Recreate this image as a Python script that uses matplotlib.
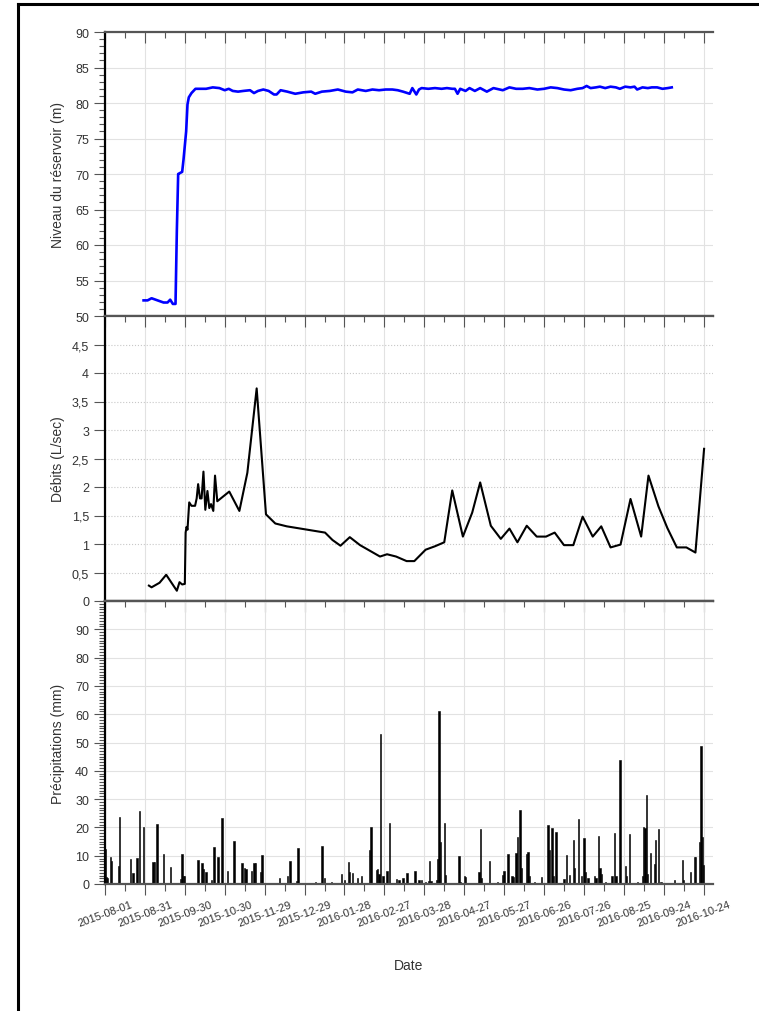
import numpy as np
import pandas as pd
import matplotlib
matplotlib.use("Agg")
import matplotlib.pyplot as plt
import matplotlib.dates as mdates
from matplotlib.ticker import MultipleLocator, FuncFormatter
from matplotlib.lines import Line2D

plt.rcParams['font.family'] = ['Liberation Sans', 'DejaVu Sans']

# dates are given as days after 2015-08-01
DEBUT = pd.Timestamp("2015-08-01")

# reservoir level (m)
niveau_jour = [29, 32, 35, 38, 41, 44, 47, 49, 51, 53, 54, 55, 56, 58, 59, 61, 62, 63, 65, 68,
               72, 76, 81, 86, 90, 93, 96, 100, 104, 109, 112, 115, 119, 123, 127, 129, 132,
               137, 143, 149, 155, 158, 163, 169, 175, 181, 186, 190, 196, 201, 206, 211, 216,
               220, 224, 229, 231, 234, 236, 238, 243, 248, 253, 257, 261, 263, 265, 267, 271,
               274, 278, 282, 287, 292, 299, 304, 309, 314, 319, 325, 330, 335, 340, 345, 350,
               355, 359, 362, 365, 369, 372, 376, 380, 384, 387, 391, 395, 398, 400, 404, 408,
               411, 415, 419, 423, 426]
niveau_m = [52.2, 52.2, 52.5, 52.3, 52.1, 51.9, 51.9, 52.3, 51.7, 51.7, 62.0, 70.0, 70.1, 70.3,
            72.0, 76.0, 79.8, 80.8, 81.4, 82.0, 82.0, 82.0, 82.2, 82.1, 81.8, 82.0, 81.7, 81.6,
            81.7, 81.8, 81.4, 81.7, 81.9, 81.7, 81.2, 81.2, 81.8, 81.6, 81.3, 81.5, 81.6, 81.3,
            81.6, 81.7, 81.9, 81.6, 81.5, 81.9, 81.7, 81.9, 81.8, 81.9, 81.9, 81.8, 81.6, 81.3,
            82.1, 81.2, 81.9, 82.1, 82.0, 82.1, 82.0, 82.1, 82.0, 82.0, 81.3, 82.0, 81.7, 82.1,
            81.7, 82.1, 81.6, 82.1, 81.8, 82.2, 82.0, 82.0, 82.1, 81.9, 82.0, 82.2, 82.1, 81.9,
            81.8, 82.0, 82.1, 82.4, 82.1, 82.2, 82.3, 82.1, 82.3, 82.2, 82.0, 82.3, 82.2, 82.3,
            81.9, 82.2, 82.1, 82.2, 82.2, 82.0, 82.1, 82.2]

# flow (L/sec)
debit_jour = [33, 35, 41, 46, 54, 56, 58, 60, 60.6, 61.3, 62, 63.3, 65, 67.7, 68.9, 70, 71.4,
              72.6, 74, 75.4, 77, 78.4, 79.7, 81.4, 82.7, 84.4, 93.4, 101, 107, 114, 121, 128,
              136.6, 165.4, 171, 177, 184, 191.7, 206.7, 212, 218.8, 226.7, 232.5, 241, 248,
              255, 261, 269, 276, 282, 290, 297.5, 304, 310, 317, 324.5, 331.5, 338, 345, 352,
              359, 366.6, 373, 380, 387.5, 395, 403, 408.5, 416, 422.7, 429.8, 437, 443.8, 450.3]
debit_ls = [0.27, 0.24, 0.32, 0.46, 0.18, 0.33, 0.29, 0.30, 1.20, 1.30, 1.25, 1.73, 1.67, 1.67,
            1.80, 2.05, 1.80, 1.80, 2.27, 1.60, 1.93, 1.63, 1.70, 1.58, 2.20, 1.75, 1.92, 1.58,
            2.25, 3.73, 1.52, 1.36, 1.31, 1.20, 1.07, 0.97, 1.12, 0.98, 0.78, 0.82, 0.78, 0.70,
            0.70, 0.90, 0.96, 1.03, 1.94, 1.13, 1.55, 2.08, 1.32, 1.09, 1.27, 1.03, 1.32, 1.13,
            1.13, 1.20, 0.98, 0.98, 1.48, 1.13, 1.31, 0.94, 0.99, 1.79, 1.13, 2.20, 1.66, 1.28,
            0.94, 0.94, 0.85, 2.67]

# daily rain (mm), days without rain left out
pluie_jour = [0, 1, 2, 4, 5, 10, 11, 19, 21, 24, 26, 29, 36, 37, 39, 44, 49, 57, 58, 59, 60, 70,
              73, 74, 76, 80, 82, 85, 88, 92, 97, 103, 105, 106, 110, 112, 113, 117, 118, 124,
              128, 131, 137, 139, 144, 145, 152, 158, 163, 165, 170, 178, 180, 183, 184, 186,
              190, 193, 199, 200, 204, 205, 206, 207, 209, 212, 214, 219, 221, 224, 227, 233,
              236, 238, 241, 243, 244, 245, 249, 250, 251, 252, 255, 256, 266, 267, 270, 271,
              281, 282, 283, 289, 295, 299, 300, 303, 306, 307, 309, 310, 312, 313, 317, 318,
              319, 323, 328, 333, 334, 336, 337, 339, 345, 347, 349, 352, 353, 356, 358, 360,
              361, 363, 368, 369, 371, 372, 373, 376, 381, 383, 384, 387, 391, 392, 394, 400,
              404, 405, 406, 407, 408, 410, 413, 414, 416, 418, 428, 434, 435, 440, 443, 444,
              447, 448, 449, 450]
pluie_mm = [12.4, 2.4, 2.0, 9.4, 8.2, 6.5, 23.5, 8.8, 3.9, 9.2, 25.9, 20.0, 7.6, 7.6, 21.2,
            10.6, 5.9, 1.8, 10.6, 2.7, 2.7, 8.5, 7.4, 5.3, 4.4, 1.5, 12.9, 9.4, 23.3, 4.7, 15.1,
            7.4, 5.5, 5.3, 4.7, 7.3, 7.4, 4.1, 10.4, 0.5, 0.5, 2.0, 3.0, 8.0, 1.0, 12.6, 0.5,
            0.8, 13.3, 2.0, 0.6, 3.5, 1.5, 7.9, 4.1, 3.9, 2.0, 2.9, 12.1, 20.0, 5.0, 5.3, 3.5,
            52.9, 2.9, 4.7, 21.4, 1.8, 1.5, 2.0, 3.8, 4.7, 1.4, 1.4, 0.8, 1.2, 8.0, 1.2, 1.5,
            8.8, 61.2, 14.7, 21.4, 3.2, 10.0, 0.6, 2.9, 2.4, 4.1, 19.6, 2.0, 8.2, 0.6, 3.2, 4.7,
            10.6, 2.9, 2.4, 10.9, 16.7, 26.2, 5.5, 10.6, 11.2, 2.9, 0.8, 2.4, 20.8, 12.1, 19.9,
            2.9, 18.2, 1.8, 10.2, 3.2, 15.5, 5.5, 22.9, 2.9, 16.1, 4.4, 2.0, 2.7, 2.0, 16.8,
            5.5, 3.5, 0.6, 2.9, 17.9, 2.7, 43.8, 6.5, 2.7, 17.6, 0.6, 2.9, 20.0, 19.9, 31.5,
            3.5, 10.9, 7.1, 15.6, 19.6, 0.6, 1.5, 8.6, 1.5, 4.4, 9.4, 9.4, 14.7, 48.6, 16.5, 6.8]

x_ticks = pd.date_range("2015-08-01", periods=16, freq="30D")
x_minor = x_ticks[:-1] + pd.Timedelta(days=15)
x_lim = (DEBUT, DEBUT + pd.Timedelta(days=457))


def jours(j):
    return DEBUT + pd.to_timedelta(np.array(j, dtype=float), unit="D")


TXT = '#333333'
fig = plt.figure(figsize=(7.59, 10.12), dpi=100)

left = 105 / 759
width = 608 / 759
ax1 = fig.add_axes([left, 1 - 317 / 1012, width, 284 / 1012])
ax2 = fig.add_axes([left, 1 - 602 / 1012, width, 285 / 1012])
ax3 = fig.add_axes([left, 1 - 885 / 1012, width, 283 / 1012])

for ax in (ax1, ax2, ax3):
    ax.set_xlim(x_lim)
    ax.set_xticks(x_ticks)
    ax.set_xticks(x_minor, minor=True)
    ax.xaxis.set_major_formatter(mdates.DateFormatter('%Y-%m-%d'))
    ax.xaxis.grid(True, which='major', color='#e2e2e2', lw=0.8)
    ax.spines['right'].set_visible(False)
    ax.spines['left'].set_color('black')
    ax.spines['left'].set_linewidth(1.6)
    ax.spines['top'].set_color('#555555')
    ax.spines['top'].set_linewidth(1.6)
    ax.spines['bottom'].set_color('#555555')
    ax.spines['bottom'].set_linewidth(1.6)
    ax.tick_params(axis='y', which='major', direction='out', length=8, width=0.8,
                   color='#555555', labelsize=9, labelcolor=TXT)
    ax.tick_params(axis='y', which='minor', direction='out', length=4, width=0.8,
                   color='#555555')
    ax.set_axisbelow(True)
    ax.yaxis.set_label_coords(-0.066, 0.5)

# top and middle panels: ticks only along the top, pointing in
for ax in (ax1, ax2):
    ax.tick_params(axis='x', which='major', top=True, bottom=False, direction='in',
                   length=8, width=0.8, color='#555555', labelbottom=False)
    ax.tick_params(axis='x', which='minor', top=True, bottom=False, direction='in',
                   length=4.5, width=0.8, color='#555555')

# ---------------- reservoir level ----------------
ax1.plot(jours(niveau_jour), niveau_m, color='#0000ff', lw=1.9)
ax1.set_ylim(50, 90)
ax1.yaxis.set_major_locator(MultipleLocator(5))
ax1.yaxis.set_minor_locator(MultipleLocator(1))
ax1.yaxis.grid(True, which='major', color='#e2e2e2', lw=0.8)
ax1.set_ylabel("Niveau du réservoir (m)", fontsize=10, color=TXT)

# ---------------- flow ----------------
ax2.plot(jours(debit_jour), debit_ls, color='black', lw=1.5)
ax2.set_ylim(0, 5)
ax2.set_yticks(np.arange(0, 4.6, 0.5))
ax2.yaxis.set_major_formatter(FuncFormatter(lambda v, p: ('%g' % v).replace('.', ',')))
ax2.yaxis.grid(True, which='major', color='#c8c8c8', lw=0.8, ls=':')
ax2.set_ylabel("Débits (L/sec)", fontsize=10, color=TXT)

# ---------------- rain ----------------
ax3.bar(jours(pluie_jour), pluie_mm, width=1.0, color='black', edgecolor='black', lw=0.4)
ax3.set_ylim(0, 100)
ax3.set_yticks(np.arange(0, 91, 10))
ax3.yaxis.set_minor_locator(MultipleLocator(1))
ax3.yaxis.grid(True, which='major', color='#e2e2e2', lw=0.8)
ax3.set_ylabel("Précipitations (mm)", fontsize=10, color=TXT)
ax3.tick_params(axis='x', which='major', top=False, bottom=True, direction='out',
                length=8, width=0.8, color='#555555', labelsize=8, labelcolor=TXT, pad=3)
ax3.tick_params(axis='x', which='minor', top=False, bottom=True, direction='out',
                length=5, width=0.8, color='#555555')
for lab in ax3.get_xticklabels():
    lab.set_rotation(20)
    lab.set_ha('center')
ax3.set_xlabel("Date", fontsize=10, color=TXT)
ax3.xaxis.set_label_coords(0.5, -0.26)

haut = ax3.secondary_xaxis('top')
haut.set_xticks(x_ticks)
haut.set_xticks(x_minor, minor=True)
haut.tick_params(axis='x', which='major', direction='in', length=8, width=0.8,
                 color='#555555', labeltop=False)
haut.tick_params(axis='x', which='minor', direction='in', length=4.5, width=0.8,
                 color='#555555')
haut.spines['top'].set_color('#555555')
haut.spines['top'].set_linewidth(1.6)

# outer frame of the screenshot (left and top edges)
fig.add_artist(Line2D([18 / 759, 18 / 759], [0, 1 - 5 / 1012], color='black', lw=2.2,
                      transform=fig.transFigure))
fig.add_artist(Line2D([18 / 759, 1], [1 - 5 / 1012, 1 - 5 / 1012], color='black', lw=2.2,
                      transform=fig.transFigure))

fig.savefig("out.png", dpi=100)
